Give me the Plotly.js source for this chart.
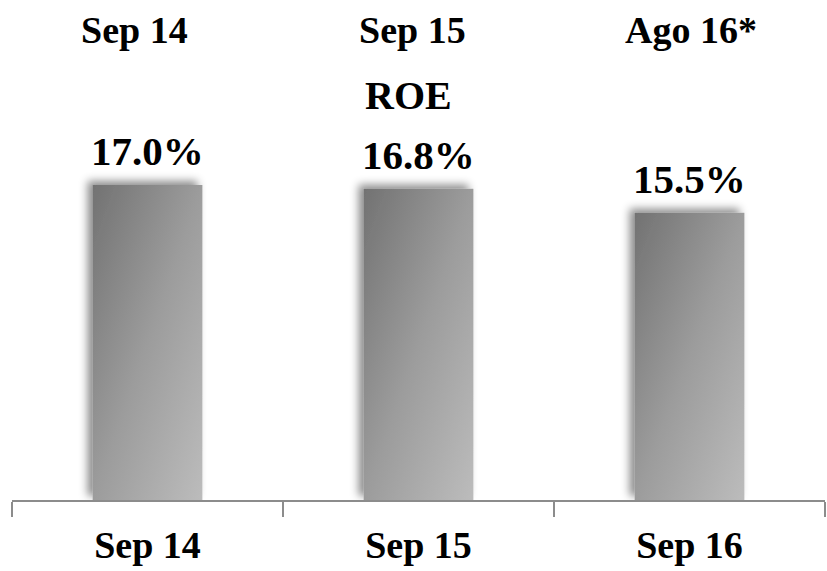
<!DOCTYPE html>
<html>
<head>
<meta charset="utf-8">
<script src="https://cdn.plot.ly/plotly-3.0.1.min.js"></script>
<style>
  html, body { margin: 0; padding: 0; background: #fff; }
  #chart { width: 827px; height: 571px; }
</style>
</head>
<body>
<div id="chart"></div>
<script>
// ---- data ----
const categories = ['Sep 14', 'Sep 15', 'Sep 16'];
const roeValues = [17.0, 16.8, 15.5];
const valueLabels = ['17.0%', '16.8%', '15.5%'];
const topLabels = ['Sep 14', 'Sep 15', 'Ago 16*'];
const chartTitle = 'ROE';

const FONT = 'Liberation Serif';
const topShift = [-13, -6, 1];

const trace = {
  type: 'bar',
  x: categories,
  y: roeValues,
  marker: { color: '#999999', line: { width: 0 } },
  hoverinfo: 'none'
};

const annotations = [];
categories.forEach((c, i) => {
  annotations.push({
    x: c, y: roeValues[i], xref: 'x', yref: 'y',
    text: '<b>' + valueLabels[i] + '</b>',
    showarrow: false, yanchor: 'bottom', yshift: 9,
    font: { family: FONT, size: 41, color: '#000' }
  });
  annotations.push({
    x: c, xref: 'x', y: 1, yref: 'paper',
    text: '<b>' + topLabels[i] + '</b>',
    showarrow: false, yanchor: 'middle', xshift: topShift[i], yshift: 120,
    font: { family: FONT, size: 38, color: '#000' }
  });
});
annotations.push({
  x: 0.5, xref: 'paper', y: 1, yref: 'paper',
  text: '<b>' + chartTitle + '</b>',
  showarrow: false, yanchor: 'middle', xshift: -10, yshift: 55,
  font: { family: FONT, size: 40, color: '#000' }
});

const layout = {
  width: 827, height: 571,
  font: { family: FONT, color: '#000' },
  margin: { l: 12, r: 2, t: 150, b: 71 },
  paper_bgcolor: '#fff', plot_bgcolor: '#fff',
  showlegend: false,
  bargap: 0.595,
  xaxis: {
    type: 'category',
    range: [-0.5, 2.5],
    showline: true, linecolor: '#8c8c8c', linewidth: 2,
    ticks: 'outside', tickson: 'boundaries', ticklen: 15, tickcolor: '#8c8c8c', tickwidth: 1.5,
    showgrid: false, zeroline: false,
    tickfont: { family: FONT, size: 38, color: '#000', weight: 'bold' },
    ticklabelstandoff: 10
  },
  yaxis: {
    range: [0, 350 / 18.53],
    visible: false, showgrid: false, zeroline: false, fixedrange: true
  },
  annotations: annotations
};

Plotly.newPlot('chart', [trace], layout, { staticPlot: true, displayModeBar: false }).then(gd => {
  const svg = gd.querySelector('svg.main-svg');
  const NS = 'http://www.w3.org/2000/svg';
  let defs = svg.querySelector('defs');
  if (!defs) { defs = document.createElementNS(NS, 'defs'); svg.insertBefore(defs, svg.firstChild); }
  const grad = document.createElementNS(NS, 'linearGradient');
  grad.setAttribute('id', 'barGrad');
  grad.setAttribute('x1', '0'); grad.setAttribute('y1', '0');
  grad.setAttribute('x2', '1'); grad.setAttribute('y2', '1');
  [['0', '#727272'], ['0.5', '#9c9c9c'], ['1', '#bcbcbc']].forEach(([o, c]) => {
    const s = document.createElementNS(NS, 'stop');
    s.setAttribute('offset', o); s.setAttribute('stop-color', c);
    grad.appendChild(s);
  });
  defs.appendChild(grad);
  const filt = document.createElementNS(NS, 'filter');
  filt.setAttribute('id', 'barShadow');
  filt.setAttribute('x', '-30%'); filt.setAttribute('y', '-30%');
  filt.setAttribute('width', '160%'); filt.setAttribute('height', '160%');
  const ds = document.createElementNS(NS, 'feDropShadow');
  ds.setAttribute('dx', '-5'); ds.setAttribute('dy', '-4');
  ds.setAttribute('stdDeviation', '4');
  ds.setAttribute('flood-color', '#000'); ds.setAttribute('flood-opacity', '0.45');
  filt.appendChild(ds);
  defs.appendChild(filt);
  gd.querySelectorAll('.bars .point path').forEach(p => {
    p.style.fill = 'url(#barGrad)';
    p.setAttribute('filter', 'url(#barShadow)');
  });
});
</script>
</body>
</html>
